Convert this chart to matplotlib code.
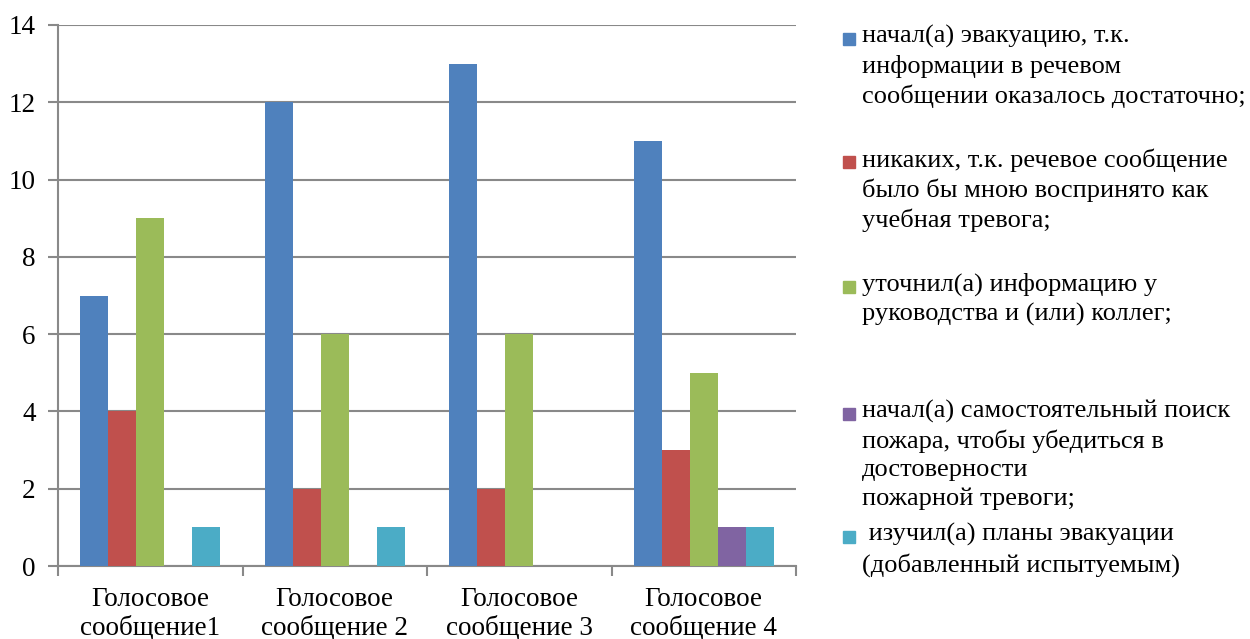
import numpy as np
import matplotlib.pyplot as plt
from matplotlib.patches import Rectangle

plt.rcParams['font.family'] = ['Liberation Serif', 'DejaVu Serif']

categories = ['Голосовое\nсообщение1', 'Голосовое\nсообщение 2',
              'Голосовое\nсообщение 3', 'Голосовое\nсообщение 4']
evacuation = [7, 12, 13, 11]
no_action = [4, 2, 2, 3]
clarified = [9, 6, 6, 5]
fire_search = [0, 0, 0, 1]
studied_plans = [1, 1, 0, 1]

series = [evacuation, no_action, clarified, fire_search, studied_plans]
colors = ['#4F81BD', '#C0504D', '#9BBB59', '#8064A2', '#4BACC6']
labels = [
    'начал(а) эвакуацию, т.к.\nинформации в речевом\nсообщении оказалось достаточно;',
    'никаких, т.к. речевое сообщение\nбыло бы мною воспринято как\nучебная тревога;',
    'уточнил(а) информацию у\nруководства и (или) коллег;',
    'начал(а) самостоятельный поиск\nпожара, чтобы убедиться в\nдостоверности\nпожарной тревоги;',
    ' изучил(а) планы эвакуации\n(добавленный испытуемым)',
]

grid_color = '#898989'

fig = plt.figure(figsize=(12.5, 6.39), dpi=100)
ax = fig.add_axes([0.0464, 0.1142, 0.5904, 0.8467])

x = np.arange(len(categories))
width = 0.152
for i, (vals, c) in enumerate(zip(series, colors)):
    ax.bar(x + (i - 2) * width, vals, width, color=c, zorder=3)

ax.set_xlim(-0.5, 3.5)
ax.set_ylim(0, 14)
ax.set_yticks(range(0, 15, 2))
ax.tick_params(axis='y', labelsize=19.5, length=7, width=1.5, color=grid_color, pad=9)
ax.yaxis.grid(True, color=grid_color, linewidth=1.5, zorder=0)

ax.set_xticks(x)
ax.set_xticklabels(categories, fontsize=19.5, linespacing=1.17)
ax.set_xticks(np.arange(-0.5, 4, 1), minor=True)
ax.tick_params(axis='x', which='major', length=0, pad=15)
ax.tick_params(axis='x', which='minor', length=7, width=1.5, color=grid_color)

for side in ('top', 'right'):
    ax.spines[side].set_visible(False)
for side in ('left', 'bottom'):
    ax.spines[side].set_color(grid_color)
    ax.spines[side].set_linewidth(1.5)

# legend drawn by hand: entries evenly spaced, markers by the first line
W, H = 1250, 639
tops = [25, 148, 273, 400, 523]
for lab, c, top in zip(labels, colors, tops):
    fig.text(862 / W, 1 - top / H, lab, fontsize=19, va='top', ha='left',
             linespacing=1.36)
    fig.patches.append(Rectangle((843 / W, 1 - (top + 20) / H), 12 / W, 12 / H,
                                 transform=fig.transFigure, color=c))

fig.savefig('out.png', dpi=100)
